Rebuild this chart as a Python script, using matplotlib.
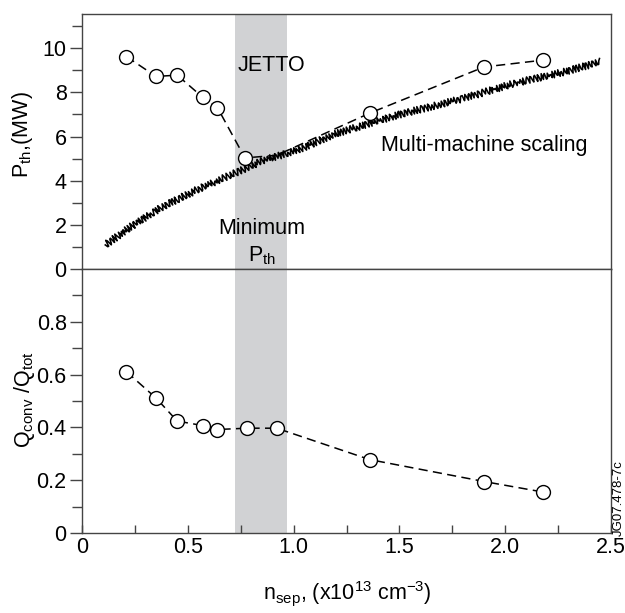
import matplotlib
matplotlib.use("Agg")
import matplotlib.pyplot as plt
from matplotlib.ticker import MultipleLocator, FixedFormatter, FixedLocator

plt.rcParams["font.family"] = ["Liberation Sans", "DejaVu Sans"]
plt.rcParams["mathtext.default"] = "regular"

# JETTO runs: separatrix density vs threshold power and convective fraction
n_sep_pth = [0.21, 0.35, 0.45, 0.57, 0.64, 0.77, 0.92, 1.36, 1.90, 2.18]
p_th = [9.62, 8.72, 8.78, 7.78, 7.31, 5.03, 5.15, 7.06, 9.15, 9.46]

n_sep_q = [0.21, 0.35, 0.45, 0.57, 0.64, 0.78, 0.92, 1.36, 1.90, 2.18]
q_frac = [0.611, 0.511, 0.424, 0.407, 0.392, 0.397, 0.397, 0.278, 0.195, 0.155]

# multi-machine scaling curve
n_scal = [0.11, 0.23, 0.38, 0.54, 0.70, 0.86, 1.02, 1.19, 1.49, 1.80, 2.04, 2.28, 2.45]
p_scal = [1.09, 1.91, 2.82, 3.57, 4.25, 4.93, 5.38, 6.10, 6.97, 7.72, 8.40, 8.93, 9.38]

band = (0.725, 0.968)
fs = 15.5

fig = plt.figure(figsize=(6.25, 6.13), dpi=100)
ax1 = fig.add_axes([0.1312, 0.5612, 0.8464, 0.4160])
ax2 = fig.add_axes([0.1312, 0.1305, 0.8464, 0.4307])

edge = "#444444"
for ax in (ax1, ax2):
    ax.axvspan(band[0], band[1], color="#d1d2d4", lw=0, zorder=0)
    ax.set_xlim(0, 2.5)
    for s in ax.spines.values():
        s.set_color(edge)
        s.set_linewidth(1.0)
    ax.tick_params(axis="y", which="major", direction="out", length=9, width=1,
                   color=edge, labelsize=fs, pad=2)
    ax.tick_params(axis="y", which="minor", direction="out", length=7, width=1, color=edge)

# top panel
scal, = ax1.plot(n_scal, p_scal, color="black", lw=1.15, zorder=2)
scal.set_sketch_params(scale=3.5, length=3.6, randomness=1.8)
ax1.plot(n_sep_pth, p_th, ls=(0, (6, 3.5)), color="black", lw=1.1,
         marker="o", ms=10, mfc="white", mec="black", mew=1.0,
         markevery=[0, 1, 2, 3, 4, 5, 7, 8, 9], zorder=3)
ax1.set_ylim(0, 11.55)
ax1.yaxis.set_major_locator(MultipleLocator(2))
ax1.yaxis.set_minor_locator(MultipleLocator(1))
ax1.tick_params(axis="x", which="both", bottom=False, labelbottom=False)
ax1.set_ylabel("P$_{th}$,(MW)", fontsize=fs)
ax1.yaxis.set_label_coords(-0.088, 0.525)

ax1.text(0.895, 9.23, "JETTO", fontsize=fs, ha="center", va="center")
ax1.text(0.85, 1.85, "Minimum", fontsize=fs, ha="center", va="center")
ax1.text(0.85, 0.6, "P$_{th}$", fontsize=fs, ha="center", va="center")
ax1.text(1.9, 5.6, "Multi-machine scaling", fontsize=fs, ha="center", va="center")

# bottom panel
ax2.plot(n_sep_q, q_frac, ls=(0, (6, 3.5)), color="black", lw=1.1,
         marker="o", ms=10, mfc="white", mec="black", mew=1.0, zorder=3)
ax2.set_ylim(0, 1.0)
ax2.yaxis.set_major_locator(FixedLocator([0, 0.2, 0.4, 0.6, 0.8]))
ax2.yaxis.set_major_formatter(FixedFormatter(["0", "0.2", "0.4", "0.6", "0.8"]))
ax2.yaxis.set_minor_locator(FixedLocator([0.1, 0.3, 0.5, 0.7, 0.9]))
ax2.xaxis.set_major_locator(FixedLocator([0, 0.5, 1.0, 1.5, 2.0, 2.5]))
ax2.xaxis.set_major_formatter(FixedFormatter(["0", "0.5", "1.0", "1.5", "2.0", "2.5"]))
ax2.xaxis.set_minor_locator(FixedLocator([0.25, 0.75, 1.25, 1.75, 2.25]))
ax2.tick_params(axis="x", which="both", direction="in", length=6, width=1,
                color=edge, labelsize=fs, pad=3)
ax2.set_ylabel("Q$_{conv}$ /Q$_{tot}$", fontsize=fs)
ax2.yaxis.set_label_coords(-0.085, 0.504)

fig.text(0.555, 1 - 593 / 613, "n$_{sep}$, (x10$^{13}$ cm$^{-3}$)",
         fontsize=fs, ha="center", va="center")
fig.text(619 / 625, 1 - 498 / 613, "JG07.478-7c", fontsize=9.5, rotation=90,
         ha="center", va="center")

fig.savefig("out.png", dpi=100)
